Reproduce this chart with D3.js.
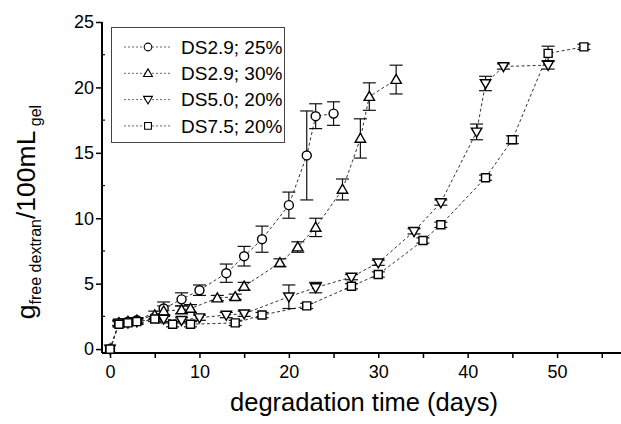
<!DOCTYPE html>
<html><head><meta charset="utf-8">
<script src="https://cdn.jsdelivr.net/npm/d3@7"></script>
<style>body{margin:0;background:#fff}svg{display:block;font-family:"Liberation Sans",Arial,sans-serif}</style>
</head><body><svg id="c" width="621" height="424"></svg>
<script>
// ---- data ----
const seriesNames = ["DS2.9; 25%", "DS2.9; 30%", "DS5.0; 20%", "DS7.5; 20%"];
const seriesSymbols = ["circle", "triUp", "triDown", "square"];

const circDays = [0, 1, 2, 3, 6, 8, 10, 13, 15, 17, 20, 22, 23, 25];
const circVals = [0, 2.0, 2.1, 2.2, 3.1, 3.8, 4.5, 5.8, 7.1, 8.4, 11.0, 14.8, 17.8, 18.0];
const circErr  = [0, 0.2, 0.2, 0.2, 0.5, 0.5, 0.4, 0.7, 0.75, 1.0, 1.0, 3.4, 0.95, 0.9];

const upDays = [0, 1, 2, 3, 5, 6, 8, 9, 12, 14, 15, 19, 21, 23, 26, 28, 29, 32];
const upVals = [0, 2.0, 2.1, 2.2, 2.6, 2.9, 3.0, 3.1, 3.9, 4.0, 4.8, 6.6, 7.8, 9.3, 12.2, 16.1, 19.3, 20.6];
const upErr  = [0, 0.2, 0.2, 0.2, 0.3, 0.4, 0.3, 0.3, 0.2, 0.2, 0.3, 0.3, 0.4, 0.7, 0.8, 1.5, 1.05, 1.1];

const downDays = [0, 1, 2, 3, 6, 8, 10, 13, 15, 20, 23, 27, 30, 34, 37, 41, 42, 44, 49];
const downVals = [0, 2.0, 2.0, 2.1, 2.3, 2.2, 2.4, 2.6, 2.7, 4.0, 4.7, 5.5, 6.6, 9.0, 11.2, 16.6, 20.3, 21.6, 21.7];
const downErr  = [0, 0.2, 0.2, 0.2, 0.3, 0.2, 0.2, 0.2, 0.2, 0.9, 0.4, 0.2, 0.2, 0.2, 0.2, 0.6, 0.55, 0.2, 0.3];

const sqDays = [0, 1, 2, 3, 5, 7, 9, 14, 17, 22, 27, 30, 35, 37, 42, 45, 49, 53];
const sqVals = [0, 1.9, 2.0, 2.1, 2.3, 1.9, 1.9, 2.0, 2.6, 3.3, 4.8, 5.7, 8.3, 9.5, 13.1, 16.0, 22.6, 23.1];
const sqErr  = [0, 0.2, 0.2, 0.2, 0.2, 0.2, 0.2, 0.2, 0.2, 0.2, 0.2, 0.2, 0.2, 0.2, 0.2, 0.3, 0.55, 0.2];

const xTickLabels = [0, 10, 20, 30, 40, 50];
const yTickLabels = [0, 5, 10, 15, 20, 25];

const xTitle = "degradation time (days)";

// ---- build ----
const series = [
  {days: circDays, vals: circVals, err: circErr},
  {days: upDays, vals: upVals, err: upErr},
  {days: downDays, vals: downVals, err: downErr},
  {days: sqDays, vals: sqVals, err: sqErr}
].map((s, i) => ({name: seriesNames[i], sym: seriesSymbols[i],
  pts: s.days.map((d, j) => ({x: d, y: s.vals[j], e: s.err[j]}))}));

const svg = d3.select("#c");
const x = d3.scaleLinear().domain([-0.9, 57.15]).range([102, 621]);
const y = d3.scaleLinear().domain([-0.3, 25]).range([353, 22]);

function symPath(sym) {
  if (sym === "circle") return "M4.5,0A4.5,4.5 0 1,1 -4.5,0A4.5,4.5 0 1,1 4.5,0Z";
  if (sym === "square") return "M-4,-4H4V4H-4Z";
  if (sym === "triUp") return "M0,-5.2L5.2,3.8L-5.2,3.8Z";
  return "M0,5.2L5.2,-3.8L-5.2,-3.8Z";
}

// axes
const xAxis = d3.axisBottom(x).tickValues(d3.range(0, 56, 5)).tickSize(5)
  .tickFormat(d => xTickLabels.includes(d) ? d : "");
const gx = svg.append("g").attr("transform", "translate(0,353)").call(xAxis);
gx.select(".domain").attr("stroke-width", 2).attr("d", "M102,0H621");
gx.selectAll(".tick line").attr("stroke-width", 1.5);
gx.selectAll("text").attr("font-size", 18).attr("fill", "#000").attr("dy", "0.95em");

const yAxis = d3.axisLeft(y).tickValues(yTickLabels).tickSize(6).tickFormat(d => d);
const gy = svg.append("g").attr("transform", "translate(102,0)").call(yAxis);
gy.select(".domain").attr("stroke-width", 2).attr("d", "M0," + y(25) + "V353");
gy.selectAll(".tick line").attr("stroke-width", 1.5);
gy.selectAll("text").attr("font-size", 18).attr("fill", "#000").attr("x", -8);
// minor inner y ticks
gy.selectAll(".minor").data(d3.range(2.5, 25, 5)).enter().append("line")
  .attr("x1", 0).attr("x2", 3).attr("y1", d => y(d)).attr("y2", d => y(d))
  .attr("stroke", "#000").attr("stroke-width", 1.2);

// lines
const line = d3.line().x(d => x(d.x)).y(d => y(d.y));
const gs = svg.append("g");
series.forEach(s => {
  gs.append("path").attr("d", line(s.pts)).attr("fill", "none")
    .attr("stroke", "#333").attr("stroke-width", 1).attr("stroke-dasharray", "3,2.5");
});
// error bars
series.forEach(s => {
  const g = gs.append("g").attr("stroke", "#111").attr("stroke-width", 1.2);
  s.pts.filter(p => p.e > 0).forEach(p => {
    const cx = x(p.x), t = y(p.y + p.e), b = y(p.y - p.e);
    g.append("line").attr("x1", cx).attr("x2", cx).attr("y1", t).attr("y2", b);
    g.append("line").attr("x1", cx - 6.5).attr("x2", cx + 6.5).attr("y1", t).attr("y2", t);
    g.append("line").attr("x1", cx - 6.5).attr("x2", cx + 6.5).attr("y1", b).attr("y2", b);
  });
});
// markers
series.forEach(s => {
  gs.append("g").selectAll("path").data(s.pts).enter().append("path")
    .attr("d", symPath(s.sym)).attr("transform", d => `translate(${x(d.x)},${y(d.y)})`)
    .attr("fill", "#fff").attr("stroke", "#000").attr("stroke-width", 1.4);
});

// legend
const lg = svg.append("g");
lg.append("rect").attr("x", 111.5).attr("y", 27.5).attr("width", 173).attr("height", 115)
  .attr("fill", "#fff").attr("stroke", "#444").attr("stroke-width", 1);
series.forEach((s, i) => {
  const ly = 47 + i * 26.3;
  lg.append("line").attr("x1", 124).attr("x2", 172).attr("y1", ly).attr("y2", ly)
    .attr("stroke", "#666").attr("stroke-width", 1).attr("stroke-dasharray", "2,2");
  lg.append("path").attr("d", symPath(s.sym)).attr("transform", `translate(148,${ly}) scale(0.85)`)
    .attr("fill", "#fff").attr("stroke", "#000").attr("stroke-width", 1.3);
  lg.append("text").attr("x", 181).attr("y", ly).attr("dy", "0.36em")
    .attr("font-size", 19).text(s.name);
});

// titles
svg.append("text").attr("x", 364).attr("y", 411).attr("text-anchor", "middle")
  .attr("font-size", 25.5).text(xTitle);
const yt = svg.append("text").attr("transform", "translate(35,212) rotate(-90)")
  .attr("text-anchor", "middle").attr("font-size", 26.5);
yt.append("tspan").text("g");
yt.append("tspan").attr("font-size", 16).attr("dy", 6).text("free dextran");
yt.append("tspan").attr("dy", -6).text("/100mL");
yt.append("tspan").attr("font-size", 16).attr("dy", 6).text(" gel");
</script></body></html>
